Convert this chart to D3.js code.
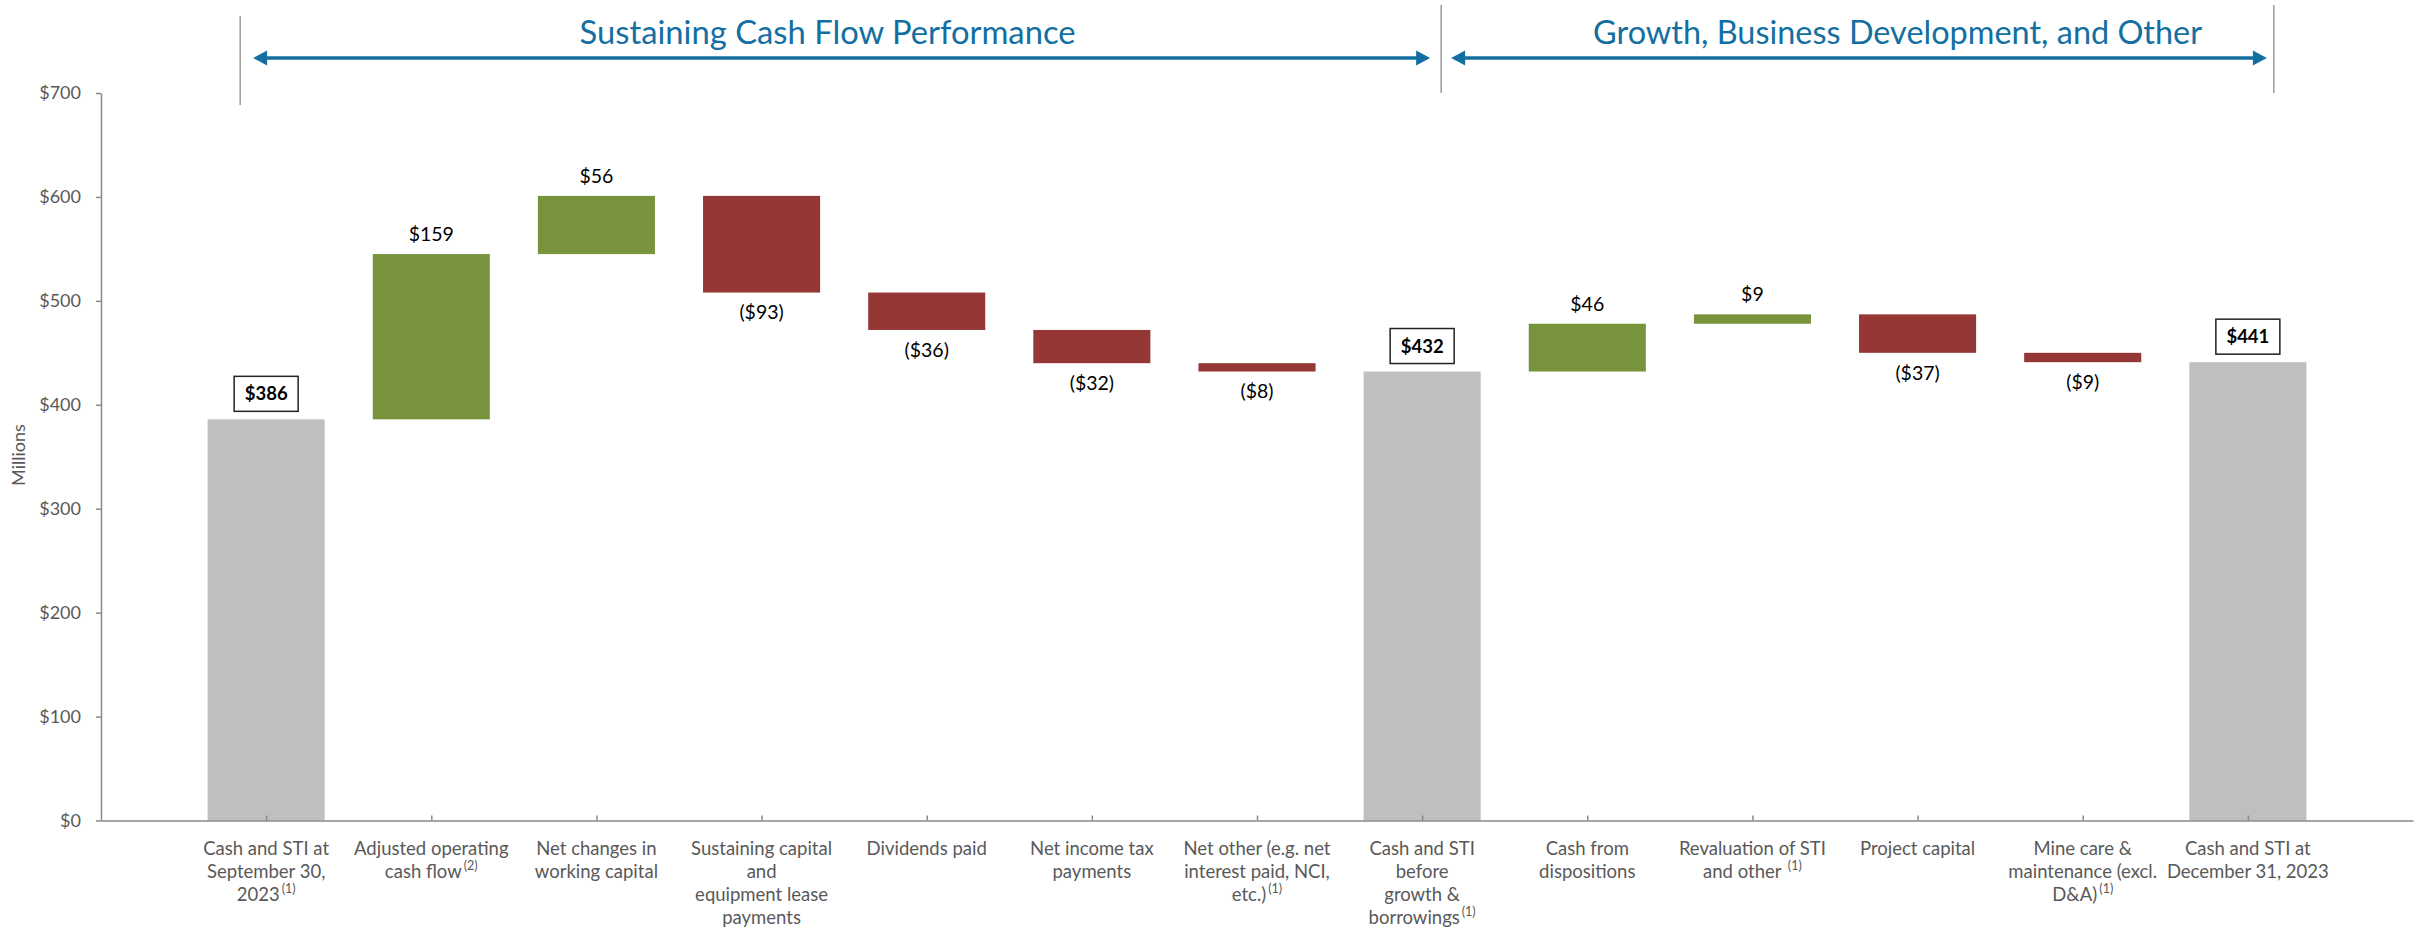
<!DOCTYPE html>
<html>
<head>
<meta charset="utf-8">
<script src="https://cdn.jsdelivr.net/npm/d3@7"></script>
<style>
  body { margin: 0; background: #fff; }
  svg { display: block; font-family: Lato, "Open Sans", sans-serif; }
</style>
</head>
<body>
<svg id="chart" width="2435" height="931"></svg>
<script>
// category labels: "|" splits lines, "^" starts a superscript note
var categories = [
  "Cash and STI at|September 30,|2023^(1)",
  "Adjusted operating|cash flow^(2)",
  "Net changes in|working capital",
  "Sustaining capital|and|equipment lease|payments",
  "Dividends paid",
  "Net income tax|payments",
  "Net other (e.g. net|interest paid, NCI,|etc.)^(1)",
  "Cash and STI|before|growth &|borrowings^(1)",
  "Cash from|dispositions",
  "Revaluation of STI|and other ^(1)",
  "Project capital",
  "Mine care &|maintenance (excl.|D&A)^(1)",
  "Cash and STI at|December 31, 2023"
]
var values = [386, 159, 56, -93, -36, -32, -8, 432, 46, 9, -37, -9, 441]
var kinds = ["total", "delta", "delta", "delta", "delta", "delta", "delta",
             "total", "delta", "delta", "delta", "delta", "total"]
var yTicks = [0, 100, 200, 300, 400, 500, 600, 700]
var sectionTitles = ["Sustaining Cash Flow Performance", "Growth, Business Development, and Other"]
var sectionBounds = [0, 7, 12]   // category index each bracket line sits next to

var colors = { total: "#bfbfbf", up: "#77933c", down: "#953735" }

var width = 2435, height = 931
var plot = { left: 101, right: 2413, top: 93, bottom: 820.5 }

var svg = d3.select("#chart")

var x = d3.scalePoint()
  .domain(d3.range(categories.length))
  .range([plot.left, plot.right])
  .padding(1)

var y = d3.scaleLinear()
  .domain([0, 700])
  .range([plot.bottom, plot.top])

var barWidth = x.step() * 0.709

// build waterfall pieces
var running = 0
var bars = values.map(function(v, i){
  var d = { i: i, value: v, kind: kinds[i] }
  if (kinds[i] == "total") {
    d.lo = 0; d.hi = v; running = v
  } else {
    d.lo = Math.min(running, running + v)
    d.hi = Math.max(running, running + v)
    running = running + v
  }
  d.color = d.kind == "total" ? colors.total : (v >= 0 ? colors.up : colors.down)
  return d
})

// bars
svg.append("g").selectAll("rect")
    .data(bars)
    .enter()
  .append("rect")
    .attr("x", function(d){ return x(d.i) - barWidth/2 })
    .attr("y", function(d){ return y(d.hi) })
    .attr("width", barWidth)
    .attr("height", function(d){ return y(d.lo) - y(d.hi) })
    .attr("fill", function(d){ return d.color })

// y axis
var yAxis = d3.axisLeft(y)
  .tickValues(yTicks)
  .tickFormat(function(d){ return "$" + d })
  .tickSize(5)
  .tickSizeOuter(0)
  .tickPadding(15)

var gy = svg.append("g")
  .attr("transform", "translate(" + plot.left + ",0)")
  .call(yAxis)
gy.selectAll("path, line").attr("stroke", "#898989").attr("stroke-width", 1.5)
gy.selectAll("text")
  .attr("fill", "#595959")
  .attr("font-size", 18)
  .attr("font-family", "Lato")

// x axis (ticks point up into the plot)
var xAxis = d3.axisBottom(x)
  .tickSize(-5)
  .tickSizeOuter(0)
  .tickFormat("")
var gx = svg.append("g")
  .attr("transform", "translate(0," + plot.bottom + ")")
  .call(xAxis)
gx.selectAll("path, line").attr("stroke", "#898989").attr("stroke-width", 1.5)

svg.append("text")
  .attr("transform", "translate(19,455) rotate(-90)")
  .attr("text-anchor", "middle")
  .attr("dy", "0.35em")
  .attr("font-size", 18)
  .attr("fill", "#595959")
  .text("Millions")

// category labels
categories.forEach(function(label, i){
  label.split("|").forEach(function(line, j){
    var parts = line.split("^")
    var t = svg.append("text")
      .attr("x", x(i))
      .attr("y", plot.bottom + 34.5 + j * 23)
      .attr("text-anchor", "middle")
      .attr("font-size", 18.5)
      .attr("fill", "#595959")
    t.append("tspan").text(parts[0])
    if (parts[1]) {
      t.append("tspan")
        .attr("font-size", 12.5)
        .attr("dx", 2)
        .attr("dy", -8)
        .text(parts[1])
    }
  })
})

// value labels for deltas
var fmt = function(v){ return v < 0 ? "($" + (-v) + ")" : "$" + v }
svg.append("g").selectAll("text")
    .data(bars.filter(function(d){ return d.kind == "delta" }))
    .enter()
  .append("text")
    .attr("x", function(d){ return x(d.i) })
    .attr("y", function(d){ return d.value >= 0 ? y(d.hi) - 20 : y(d.lo) + 20 })
    .attr("dy", "0.35em")
    .attr("text-anchor", "middle")
    .attr("font-size", 19.5)
    .attr("fill", "#000")
    .text(function(d){ return fmt(d.value) })

// boxed labels for totals
var totals = svg.append("g").selectAll("g")
    .data(bars.filter(function(d){ return d.kind == "total" }))
    .enter()
  .append("g")
    .attr("transform", function(d){ return "translate(" + x(d.i) + "," + (y(d.hi) - 8 - 17.5) + ")" })
totals.append("rect")
  .attr("x", -32).attr("y", -17.5)
  .attr("width", 64).attr("height", 35)
  .attr("fill", "#fff")
  .attr("stroke", "#222")
  .attr("stroke-width", 1.5)
totals.append("text")
  .attr("text-anchor", "middle")
  .attr("dy", "0.35em")
  .attr("font-size", 18.5)
  .attr("font-weight", "bold")
  .attr("fill", "#000")
  .text(function(d){ return "$" + d.value })

// section brackets, arrows and titles
var blue = "#136fa2"
var lineX = [x(sectionBounds[0]) - 26, x(sectionBounds[1]) + 19, x(sectionBounds[2]) + 26]
var lineY = [[16, 105], [5, 93], [5, 93]]
lineX.forEach(function(lx, k){
  svg.append("line")
    .attr("x1", lx).attr("x2", lx)
    .attr("y1", lineY[k][0]).attr("y2", lineY[k][1])
    .attr("stroke", "#8a8a8a")
    .attr("stroke-width", 1.3)
})

var arrowY = 58
var arrows = [[lineX[0] + 13, lineX[1] - 11], [lineX[1] + 10, lineX[2] - 7]]
arrows.forEach(function(a){
  svg.append("line")
    .attr("x1", a[0] + 10).attr("x2", a[1] - 10)
    .attr("y1", arrowY).attr("y2", arrowY)
    .attr("stroke", blue)
    .attr("stroke-width", 3.5)
  svg.append("path")
    .attr("d", "M" + a[0] + "," + arrowY + "L" + (a[0] + 14) + "," + (arrowY - 7.5) + "L" + (a[0] + 14) + "," + (arrowY + 7.5) + "Z")
    .attr("fill", blue)
  svg.append("path")
    .attr("d", "M" + a[1] + "," + arrowY + "L" + (a[1] - 14) + "," + (arrowY - 7.5) + "L" + (a[1] - 14) + "," + (arrowY + 7.5) + "Z")
    .attr("fill", blue)
})

var titlePos = [{ cx: x(3) + 66, w: 496 }, { cx: x(10) - 20, w: 609 }]
sectionTitles.forEach(function(title, k){
  svg.append("text")
    .attr("x", titlePos[k].cx)
    .attr("y", 43.5)
    .attr("text-anchor", "middle")
    .attr("font-size", 32)
    .attr("fill", blue)
    .attr("textLength", titlePos[k].w)
    .attr("lengthAdjust", "spacingAndGlyphs")
    .text(title)
})
</script>
</body>
</html>
